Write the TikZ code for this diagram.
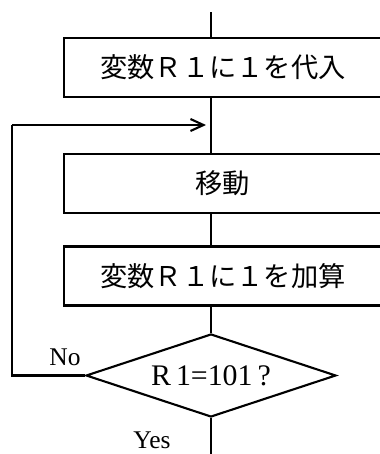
\documentclass[tikz,border=0pt]{standalone}
\usepackage{fontspec}
\setmainfont{Liberation Serif}
\newfontfamily\jpfont{Noto Sans CJK JP}
\usetikzlibrary{shapes.geometric,arrows.meta}
\pgfdeclarelayer{edgelayer}
\pgfdeclarelayer{nodelayer}
\pgfsetlayers{edgelayer,nodelayer,main}
\tikzstyle{edge}=[draw=black, line width=1.2pt]
\tikzstyle{box}=[rectangle, fill=white, draw=black, line width=1.2pt, minimum width=6.36cm, minimum height=1.18cm, inner sep=0pt, font=\jpfont\fontsize{15.5pt}{18pt}\selectfont]
\tikzstyle{decision}=[diamond, fill=white, draw=black, line width=1.2pt, minimum width=5cm, minimum height=1.66cm, aspect=3, inner sep=0pt, font=\fontsize{17pt}{20pt}\selectfont]
\tikzstyle{label}=[inner sep=0pt, font=\fontsize{14.5pt}{17pt}\selectfont]

\begin{document}
\begin{tikzpicture}
				\useasboundingbox (0, 0) rectangle (7.58, 9.08);
				\begin{pgfonlayer}{nodelayer}
					\coordinate (0) at (4.22, 8.84);
					\node [style=box] (1) at (4.46, 7.73) {変数Ｒ１に１を代入};
					\node [style=box] (2) at (4.46, 5.41) {移動};
					\node [style=box] (3) at (4.46, 3.56) {変数Ｒ１に１を加算};
					\node [style=decision] (4) at (4.22, 1.57) {R\,1=101\,?};
					\coordinate (5) at (4.22, 0);
					\coordinate (6) at (0.24, 1.57);
					\coordinate (7) at (0.24, 6.58);
					\coordinate (8) at (4.12, 6.58);
					\node [style=label] (9) at (1.30, 1.94) {No};
					\node [style=label] (10) at (3.04, 0.27) {Yes};
				\end{pgfonlayer}
				\begin{pgfonlayer}{edgelayer}
					\draw [style=edge] (0) to (0 |- 1.north);
					\draw [style=edge] (0 |- 1.south) to (0 |- 2.north);
					\draw [style=edge] (0 |- 2.south) to (0 |- 3.north);
					\draw [style=edge] (0 |- 3.south) to (4.north);
					\draw [style=edge] (4.south) to (5);
					\draw [style=edge] (4.west) to (6) to (7);
					\draw [style=edge, -{Straight Barb[length=0.26cm, width=0.24cm]}] (7) to (8);
				\end{pgfonlayer}
			\end{tikzpicture}
\end{document}
